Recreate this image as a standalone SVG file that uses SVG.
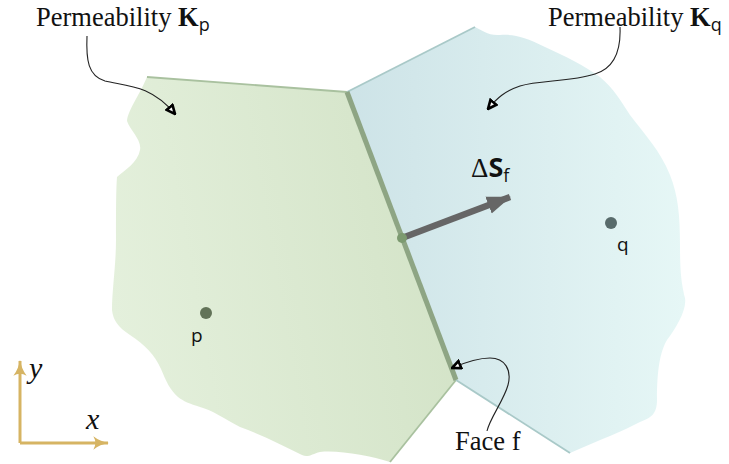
<svg xmlns="http://www.w3.org/2000/svg" width="729" height="464" viewBox="0 0 729 464">
<defs>
<linearGradient id="gp" x1="0" y1="0.6" x2="1" y2="0.4">
<stop offset="0" stop-color="#e4f0dc"/>
<stop offset="1" stop-color="#d3e3c7"/>
</linearGradient>
<linearGradient id="gq" x1="0" y1="0" x2="1" y2="0">
<stop offset="0" stop-color="#cde3e7"/>
<stop offset="1" stop-color="#e6f7f6"/>
</linearGradient>
<marker id="open" viewBox="0 0 10 10" refX="9" refY="5" markerWidth="11" markerHeight="11" markerUnits="userSpaceOnUse" orient="auto">
<path d="M1.2,1.5 L9,5 L1.2,8.5 Z" fill="#fff" stroke="#000" stroke-width="2.4" stroke-linejoin="miter"/>
</marker>
<marker id="gold" viewBox="0 0 12 12" refX="11" refY="6" markerWidth="16" markerHeight="16" markerUnits="userSpaceOnUse" orient="auto">
<path d="M0,1 Q5,5 12,6 Q5,7 0,11 Q3,6 0,1 Z" fill="#d6b463"/>
</marker>
<marker id="big" viewBox="0 0 24 20" refX="23" refY="10" markerWidth="24" markerHeight="20" markerUnits="userSpaceOnUse" orient="auto">
<path d="M0,1 L24,10 L0,19 Z" fill="#666"/>
</marker>
<style>
.lbl{font-family:"Liberation Serif","Times New Roman",serif;font-size:26.5px;fill:#111}
.ital{font-family:"Liberation Serif","Times New Roman",serif;font-size:30px;font-style:italic;fill:#111}
.sub{font-family:"Open Sans","Noto Sans",sans-serif;font-size:18px}
.pt{font-family:"Open Sans","Noto Sans",sans-serif;font-size:19px;fill:#111}
.curve{fill:none;stroke:#222;stroke-width:1.1}
.ax{fill:none;stroke:#d6b463;stroke-width:3}
</style>
</defs>
<g id="cell-p">
<path d="M147,77 L347,92 L456,380 L390,462 C370,456 340,450 320,452 C312,454 308,458 302,455 C282,445 262,435 240,427 C225,419 212,410 200,407 C190,404 183,401 178,397 C170,390 166,381 161,369 C155,355 145,345 130,335 C118,327 113,320 112,310 C112,290 116,265 116,240 C116,210 116,190 117,177 C125,170 138,162 140,150 C142,140 130,130 127,121 C128,110 138,98 147,77 Z" fill="url(#gp)"/>
<path d="M147,77 L347,92" stroke="#a9c19f" stroke-width="1.8" fill="none"/>
<path d="M456,380 L390,462" stroke="#a9c19f" stroke-width="1.8" fill="none"/>
<circle cx="206" cy="313" r="6" fill="#627358"/>
<text class="pt" x="191" y="342">p</text>
</g>
<g id="cell-q">
<path d="M347,92 L475,27 C482,30 488,36 500,35 C515,34 525,37 545,47 C565,56 585,66 600,77 C615,90 620,100 630,115 C645,135 660,150 670,175 C678,195 680,215 680,245 C680,275 682,285 685,298 C687,310 676,328 667,340 C660,352 657,370 657,400 C657,415 650,418 640,422 C625,430 600,440 570,453 L456,380 Z" fill="url(#gq)"/>
<path d="M347,92 L475,27" stroke="#a9c9c8" stroke-width="1.8" fill="none"/>
<path d="M456,380 L570,453" stroke="#a9c9c8" stroke-width="1.8" fill="none"/>
<circle cx="611" cy="223" r="6" fill="#586b6b"/>
<text class="pt" x="617" y="251">q</text>
</g>
<g id="face">
<path d="M347,92 L456,380" stroke="#8ea584" stroke-width="5" fill="none"/>
</g>
<g id="connectors">
<path class="curve" d="M87,36 C86,60 88,76 105,81 C125,86 150,84 175,114" marker-end="url(#open)"/>
<path class="curve" d="M620,27 C621,50 615,68 595,74 C570,82 540,80 520,86 C505,91 497,98 488,109" marker-end="url(#open)"/>
<path class="curve" d="M487,431 C490,418 504,400 508,385 C512,370 505,358 490,358 C478,358 466,362 452,368" marker-end="url(#open)"/>
<path d="M402,238 L510,197" stroke="#666" stroke-width="6.5" fill="none" marker-end="url(#big)"/>
<circle cx="402" cy="238" r="5" fill="#7c9a70"/>
<path class="ax" d="M20,443 L20,361" marker-end="url(#gold)"/>
<path class="ax" d="M20,443 L108,443" marker-end="url(#gold)"/>
</g>
<g id="labels">
<text class="lbl" x="36" y="26">Permeability <tspan font-weight="bold">K</tspan><tspan class="sub" dy="5">p</tspan></text>
<text class="lbl" x="548" y="26">Permeability <tspan font-weight="bold">K</tspan><tspan class="sub" dy="5">q</tspan></text>
<text class="lbl" x="455" y="450">Face f</text>
<text x="471" y="177" font-size="27" fill="#111"><tspan font-family="Liberation Serif, serif">Δ</tspan><tspan font-family="Open Sans, sans-serif" font-weight="bold">S</tspan><tspan class="sub" dy="5">f</tspan></text>
<text class="ital" x="29" y="378">y</text>
<text class="ital" x="86" y="429">x</text>
</g>
</svg>
